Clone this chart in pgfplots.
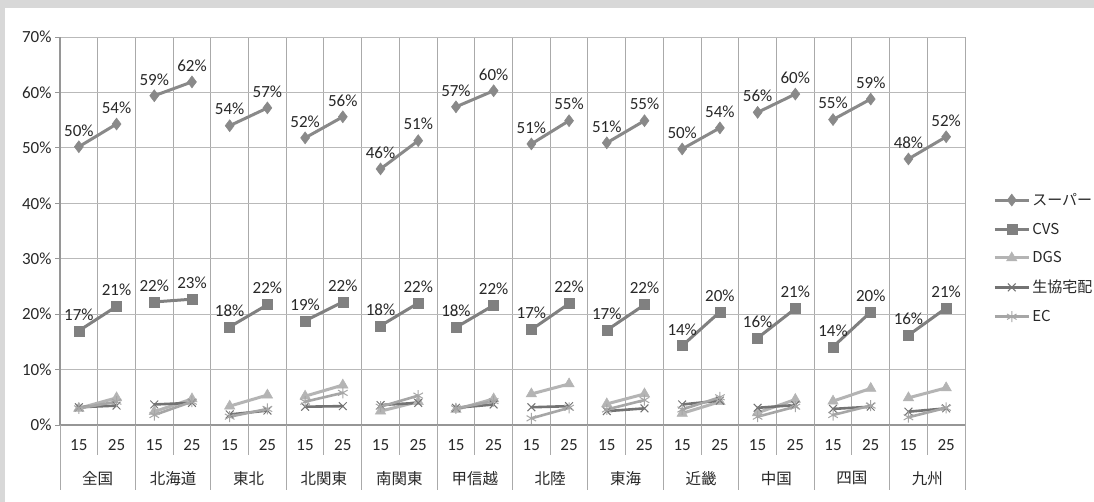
\documentclass[border=0pt]{standalone}
\usepackage{fontspec}
\setmainfont{Carlito}
\newfontfamily\jp{Noto Sans CJK JP}
\usepackage{pgfplots}
\pgfplotsset{compat=1.18}
\definecolor{bgc}{RGB}{216,216,216}
\definecolor{supc}{RGB}{137,137,137}
\definecolor{cvsc}{RGB}{128,128,128}
\definecolor{dgsc}{RGB}{180,180,180}
\definecolor{coopc}{RGB}{115,115,115}
\definecolor{ecc}{RGB}{166,166,166}
\definecolor{gridc}{RGB}{185,185,185}
\definecolor{vgridc}{RGB}{170,170,170}
\definecolor{axc}{RGB}{150,150,150}
\definecolor{txt}{RGB}{40,40,40}
\begin{document}
\begin{tikzpicture}
\useasboundingbox (0pt,0pt) rectangle (1094pt,502pt);
\clip (0pt,0pt) rectangle (1094pt,502pt);
\fill[bgc] (0pt,0pt) rectangle (1094pt,502pt);
\fill[white] (5pt,0pt) rectangle (1094pt,494pt);
\begin{axis}[
  at={(60pt,77pt)}, anchor=south west,
  scale only axis, width=905pt, height=388pt,
  xmin=-0.5, xmax=23.5, ymin=0, ymax=70,
  /pgf/number format/assume math mode=true,
  axis lines*=left,
  axis line style={-, color=axc, line width=1.6pt},
  unbounded coords=jump,
  clip=false,
  ytick={0,10,...,70},
  yticklabel={\pgfmathprintnumber{\tick}\%},
  ymajorgrids,
  major grid style={color=gridc, line width=0.9pt},
  ytick style={color=axc, line width=0.9pt},
  tick align=outside,
  major tick length=5pt,
  xtick={0,...,23},
  xticklabels={15,25,15,25,15,25,15,25,15,25,15,25,15,25,15,25,15,25,15,25,15,25,15,25},
  x tick style={draw=none},
  minor xtick={-0.5,0.5,...,23.5},
  xminorgrids,
  minor grid style={color=vgridc, line width=1pt},
  minor x tick style={draw=none},
  extra x ticks={0.5,2.5,...,22.5},
  extra x tick labels={{\jp 全国},{\jp 北海道},{\jp 東北},{\jp 北関東},{\jp 南関東},{\jp 甲信越},{\jp 北陸},{\jp 東海},{\jp 近畿},{\jp 中国},{\jp 四国},{\jp 九州}},
  extra x tick style={grid=none, major tick length=0pt, tick label style={yshift=-37pt, font=\fontsize{15.5}{17}\selectfont\color{txt}}},
  tick label style={font=\fontsize{17}{19}\selectfont\color{txt}},
  xticklabel style={yshift=-6pt},
  nodes near coords style={font=\fontsize{17}{19}\selectfont, text=txt, anchor=south, yshift=7pt},
  legend style={at={(1.031,0.43)}, anchor=west, draw=none, fill=none,
    font=\jp\fontsize{15}{17}\selectfont\color{txt}, row sep=12pt,
    inner xsep=0pt, inner ysep=0pt, cells={anchor=west}},
  legend image code/.code={
    \draw[mark repeat=2,mark phase=2,#1] plot coordinates {(0pt,0pt) (17pt,0pt) (34pt,0pt)};
  },
]
\addplot[color=supc, line width=3pt, mark=diamond*, mark size=6pt, mark options={solid, fill=supc, line width=0.5pt},
  nodes near coords={\pgfmathprintnumber[fixed,precision=0]{\pgfplotspointmeta}\%}]
coordinates {(0,50.2)(1,54.3)(1.5,nan)(2,59.4)(3,61.9)(3.5,nan)(4,54.0)(5,57.2)(5.5,nan)(6,51.8)(7,55.6)(7.5,nan)(8,46.2)(9,51.3)(9.5,nan)(10,57.4)(11,60.3)(11.5,nan)(12,50.7)(13,54.9)(13.5,nan)(14,50.9)(15,54.9)(15.5,nan)(16,49.8)(17,53.6)(17.5,nan)(18,56.4)(19,59.7)(19.5,nan)(20,55.1)(21,58.8)(21.5,nan)(22,48.0)(23,52.0)};
\addlegendentry{スーパー}
\addplot[color=cvsc, line width=3pt, mark=square*, mark size=5pt, mark options={solid, fill=cvsc, line width=0.5pt},
  nodes near coords={\pgfmathprintnumber[fixed,precision=0]{\pgfplotspointmeta}\%}]
coordinates {(0,17.0)(1,21.4)(1.5,nan)(2,22.2)(3,22.7)(3.5,nan)(4,17.7)(5,21.7)(5.5,nan)(6,18.8)(7,22.2)(7.5,nan)(8,17.9)(9,22.0)(9.5,nan)(10,17.6)(11,21.6)(11.5,nan)(12,17.2)(13,21.9)(13.5,nan)(14,17.1)(15,21.7)(15.5,nan)(16,14.3)(17,20.4)(17.5,nan)(18,15.7)(19,21.0)(19.5,nan)(20,14.1)(21,20.4)(21.5,nan)(22,16.2)(23,21.1)};
\addlegendentry{CVS}
\addplot[color=dgsc, line width=3pt, mark=triangle*, mark size=6pt, mark options={solid, fill=dgsc, line width=0.5pt}]
coordinates {(0,3.0)(1,4.9)(1.5,nan)(2,2.4)(3,4.7)(3.5,nan)(4,3.4)(5,5.4)(5.5,nan)(6,5.2)(7,7.2)(7.5,nan)(8,2.5)(9,4.2)(9.5,nan)(10,2.8)(11,4.7)(11.5,nan)(12,5.6)(13,7.4)(13.5,nan)(14,3.8)(15,5.6)(15.5,nan)(16,2.1)(17,4.2)(17.5,nan)(18,2.2)(19,4.6)(19.5,nan)(20,4.3)(21,6.6)(21.5,nan)(22,4.9)(23,6.7)};
\addlegendentry{DGS}
\addplot[color=coopc, line width=2.6pt, mark=x, mark size=5.5pt, mark options={solid, line width=1pt}]
coordinates {(0,3.2)(1,3.5)(1.5,nan)(2,3.7)(3,4.0)(3.5,nan)(4,1.9)(5,2.6)(5.5,nan)(6,3.3)(7,3.4)(7.5,nan)(8,3.6)(9,4.0)(9.5,nan)(10,3.1)(11,3.7)(11.5,nan)(12,3.2)(13,3.4)(13.5,nan)(14,2.5)(15,3.0)(15.5,nan)(16,3.7)(17,4.4)(17.5,nan)(18,3.1)(19,3.6)(19.5,nan)(20,2.9)(21,3.3)(21.5,nan)(22,2.4)(23,3.0)};
\addlegendentry{生協宅配}
\addplot[color=ecc, line width=2.6pt, mark=asterisk, mark size=5.5pt, mark options={solid, line width=1pt}]
coordinates {(0,3.0)(1,4.2)(1.5,nan)(2,1.8)(3,4.2)(3.5,nan)(4,1.5)(5,2.9)(5.5,nan)(6,4.2)(7,5.8)(7.5,nan)(8,3.3)(9,5.3)(9.5,nan)(10,3.0)(11,4.3)(11.5,nan)(12,1.2)(13,3.1)(13.5,nan)(14,2.8)(15,4.5)(15.5,nan)(16,2.8)(17,5.0)(17.5,nan)(18,1.5)(19,3.3)(19.5,nan)(20,1.8)(21,3.5)(21.5,nan)(22,1.4)(23,3.1)};
\addlegendentry{EC}
\end{axis}
\foreach \j in {0,2,...,24} {
  \draw[vgridc, line width=1pt] ({(60+37.7083*\j)*1pt},77pt) -- ++(0pt,-65pt);
}
\foreach \j in {1,3,...,23} {
  \draw[vgridc, line width=1pt] ({(60+37.7083*\j)*1pt},77pt) -- ++(0pt,-30pt);
}
\end{tikzpicture}
\end{document}
